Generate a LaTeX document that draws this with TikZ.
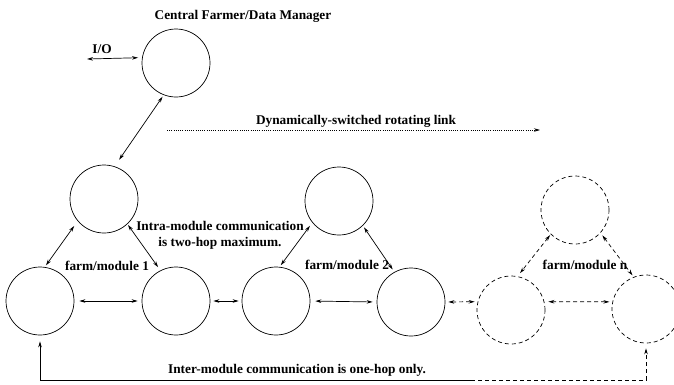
\documentclass[tikz,border=0pt]{standalone}
\usepackage{fontspec}
\setmainfont{Liberation Serif}
\usetikzlibrary{arrows.meta}

\begin{document}
\begin{tikzpicture}[
                x=1pt, y=-1pt,
                farm/.style={
                    circle,
                    draw=black,
                    line width=0.7pt,
                    minimum size=68pt,
                    inner sep=0pt
                },
                farmdash/.style={farm, dash pattern=on 4pt off 3pt},
                label/.style={font=\bfseries\fontsize{13.3}{16}\selectfont, inner sep=0pt, align=center},
                link/.style={draw=black, line width=0.7pt, {Stealth[length=6pt,width=3.5pt]}-{Stealth[length=6pt,width=3.5pt]}, shorten <=3pt, shorten >=3pt},
                linkdash/.style={link, dash pattern=on 4pt off 3pt}
            ]
                \useasboundingbox (0,0) rectangle (674,384);

                % circles
                \node[farm] (cfm) at (176, 63) {};
                \node[farm] (m1t) at (104, 199) {};
                \node[farm] (m1l) at (40, 301) {};
                \node[farm] (m1r) at (176, 301) {};
                \node[farm] (m2t) at (339, 201) {};
                \node[farm] (m2l) at (276, 301) {};
                \node[farm] (m2r) at (411, 302) {};
                \node[farmdash] (mnt) at (575, 210) {};
                \node[farmdash] (mnl) at (511, 310) {};
                \node[farmdash] (mnr) at (646, 309) {};

                % texts
                \node[label] (title) at (243, 16) {Central Farmer/Data Manager};
                \node[label] (io) at (102, 49) {I/O};
                \node[label] (rot) at (356, 121) {Dynamically-switched rotating link};
                \node[label] (intra) at (220, 235) {Intra-module communication\\is two-hop maximum.};
                \node[label] (f1) at (107, 266) {farm/module 1};
                \node[label] (f2) at (347, 265) {farm/module 2};
                \node[label] (fn) at (585, 265) {farm/module n};
                \node[label] (inter) at (297, 370) {Inter-module communication is one-hop only.};

                \coordinate (ioL) at (87, 59);
                \coordinate (rotL) at (167, 130);
                \coordinate (rotR) at (540, 130);
                \coordinate (split) at (471, 380);

                \draw[link, shorten <=0pt, shorten >=4pt] (ioL) -- (cfm.171);
                \draw[link, shorten <=2pt, shorten >=8pt] (cfm.249) -- (m1t.72);
                \draw[draw=black, line width=0.7pt, dash pattern=on 1pt off 1.2pt, -{Stealth[length=6pt,width=3.5pt]}] (rotL) -- (rotR);

                \draw[link, shorten <=6pt, shorten >=2pt] (m1t.220) -- (m1l.82);
                \draw[link, shorten <=1pt, shorten >=4pt] (m1t.313) -- (m1r.117);
                \draw[link, shorten <=4pt, shorten >=2pt] (m2t.219) -- (m2l.84);
                \draw[link, shorten <=2pt, shorten >=3pt] (m2t.314) -- (m2r.119);
                \draw[linkdash, shorten <=1pt, shorten >=4pt] (mnt.225) -- (mnl.79);
                \draw[linkdash, shorten <=3pt, shorten >=2pt] (mnt.318) -- (mnr.111);

                \draw[link, shorten <=5pt, shorten >=4pt] (m1l.east) -- (m1r.west);
                \draw[link] (m1r.east) -- (m2l.west);
                \draw[link, shorten <=5pt, shorten >=4pt] (m2l.east) -- (m2r.west);
                \draw[linkdash] (m2r.east) -- (mnl.166);
                \draw[linkdash, shorten <=4pt, shorten >=3pt] (mnl.14) -- (mnr.168);

                \draw[draw=black, line width=0.7pt, {Stealth[length=6pt,width=3.5pt]}-, shorten <=6pt] (m1l.south) |- (split);
                \draw[draw=black, line width=0.7pt, dash pattern=on 4pt off 3pt, -{Stealth[length=6pt,width=3.5pt]}, shorten >=5pt] (split) -| (mnr.south);
            \end{tikzpicture}
\end{document}
